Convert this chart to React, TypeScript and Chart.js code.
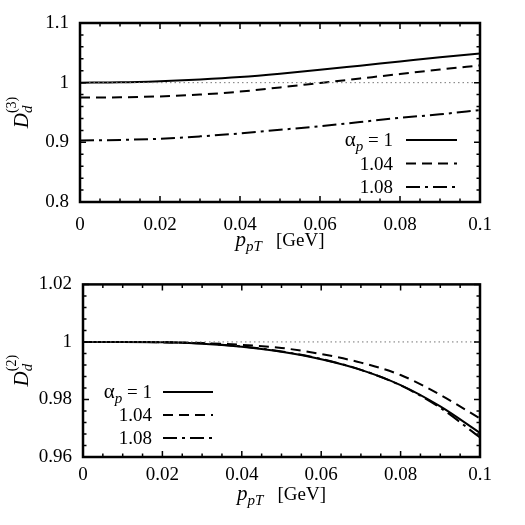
import React, { useEffect, useRef } from 'react';
import { Chart, registerables } from 'chart.js';

Chart.register(...registerables);

// ---------- data ----------
const xValues = [0, 0.01, 0.02, 0.03, 0.04, 0.05, 0.06, 0.07, 0.08, 0.09, 0.1];

const d3Alpha100 = [1.0, 1.0005, 1.0025, 1.0055, 1.0095, 1.015, 1.0215, 1.0285, 1.0355, 1.0425, 1.049];
const d3Alpha104 = [0.975, 0.9755, 0.977, 0.98, 0.985, 0.992, 0.9995, 1.007, 1.0145, 1.022, 1.029];
const d3Alpha108 = [0.903, 0.904, 0.906, 0.91, 0.915, 0.921, 0.927, 0.934, 0.941, 0.947, 0.954];

const d2Alpha100 = [1.0, 1.0, 0.9999, 0.9994, 0.9983, 0.9966, 0.994, 0.9903, 0.985, 0.9776, 0.9684];
const d2Alpha104 = [1.0, 1.0, 0.9999, 0.9996, 0.999, 0.9979, 0.9958, 0.9928, 0.9885, 0.9816, 0.9734];
const d2Alpha108 = [1.0, 1.0, 0.9999, 0.9995, 0.9984, 0.9967, 0.9941, 0.9903, 0.9849, 0.9771, 0.9668];

const legendLabels = ['1', '1.04', '1.08'];
const referenceLevel = 1;

const xMin = 0, xMax = 0.1, xStep = 0.02;
const topYMin = 0.8, topYMax = 1.1, topYStep = 0.1;
const botYMin = 0.96, botYMax = 1.02, botYStep = 0.02;

// ---------- styling ----------
const FONT = "'Liberation Serif', 'Times New Roman', Times, serif";
const dashStyles: number[][] = [[], [10, 6], [14, 5, 3, 5]];

type Part = { t: string; size: number; italic?: boolean; dy?: number };
type Col = Part[];

const fontOf = (p: Part) => `${p.italic ? 'italic ' : ''}${p.size}px ${FONT}`;

function richWidth(ctx: CanvasRenderingContext2D, cols: Col[]) {
  let w = 0;
  for (const col of cols) {
    let m = 0;
    for (const p of col) {
      ctx.font = fontOf(p);
      m = Math.max(m, ctx.measureText(p.t).width);
    }
    w += m;
  }
  return w;
}

function drawRich(ctx: CanvasRenderingContext2D, cols: Col[], x: number, y: number) {
  let cx = x;
  ctx.textBaseline = 'alphabetic';
  ctx.textAlign = 'left';
  for (const col of cols) {
    let m = 0;
    for (const p of col) {
      ctx.font = fontOf(p);
      ctx.fillText(p.t, cx, y + (p.dy || 0));
      m = Math.max(m, ctx.measureText(p.t).width);
    }
    cx += m;
  }
}

const xTitleCols: Col[] = [
  [{ t: 'p', size: 21, italic: true }],
  [{ t: 'pT', size: 15, italic: true, dy: 5 }],
  [{ t: '   [GeV]', size: 19 }],
];

const yTitleCols = (n: string): Col[] => [
  [{ t: 'D', size: 21, italic: true }],
  [
    { t: 'd', size: 15, italic: true, dy: 4 },
    { t: `(${n})`, size: 14, dy: -12 },
  ],
];

const alphaCols: Col[] = [
  [{ t: 'α', size: 21 }],
  [{ t: 'p', size: 15, italic: true, dy: 5 }],
  [{ t: ' = 1', size: 19 }],
];

const decorPlugin = {
  id: 'decor',
  afterDatasetsDraw(chart: any, _args: any, opts: any) {
    const { ctx, chartArea: a, scales } = chart;
    const xs = scales.x, ys = scales.y;
    ctx.save();
    ctx.strokeStyle = '#000';
    ctx.fillStyle = '#000';
    // inner ticks
    ctx.lineWidth = 1.5;
    const nx = Math.round((xs.max - xs.min) / opts.xMinor);
    for (let i = 0; i <= nx; i++) {
      const v = xs.min + i * opts.xMinor;
      const px = xs.getPixelForValue(v);
      const len = i % opts.xRatio === 0 ? 6 : 3.5;
      ctx.beginPath();
      ctx.moveTo(px, a.bottom); ctx.lineTo(px, a.bottom - len);
      ctx.moveTo(px, a.top); ctx.lineTo(px, a.top + len);
      ctx.stroke();
    }
    const ny = Math.round((ys.max - ys.min) / opts.yMinor);
    for (let i = 0; i <= ny; i++) {
      const v = ys.min + i * opts.yMinor;
      const py = ys.getPixelForValue(v);
      const len = i % opts.yRatio === 0 ? 6 : 3.5;
      ctx.beginPath();
      ctx.moveTo(a.left, py); ctx.lineTo(a.left + len, py);
      ctx.moveTo(a.right, py); ctx.lineTo(a.right - len, py);
      ctx.stroke();
    }
    // frame
    ctx.lineWidth = 2.5;
    ctx.strokeRect(a.left, a.top, a.right - a.left, a.bottom - a.top);

    // x title
    const xw = richWidth(ctx, xTitleCols);
    drawRich(ctx, xTitleCols, (a.left + a.right) / 2 - xw / 2, opts.xTitleY);

    // y title (rotated)
    const ycols = yTitleCols(opts.yOrder);
    const yw = richWidth(ctx, ycols);
    ctx.save();
    ctx.translate(opts.yTitleX, (a.top + a.bottom) / 2);
    ctx.rotate(-Math.PI / 2);
    drawRich(ctx, ycols, -yw / 2, 0);
    ctx.restore();

    // legend
    const lg = opts.legend;
    const dsList = chart.data.datasets.filter((d: any) => d.legendIndex !== undefined);
    dsList.forEach((d: any) => {
      const i = d.legendIndex;
      const cy = lg.y0 + i * lg.dy;
      let cols: Col[];
      if (i === 0) cols = alphaCols;
      else cols = [[{ t: legendLabels[i], size: 19 }]];
      const w = richWidth(ctx, cols);
      drawRich(ctx, cols, lg.textRight - w, cy + 6);
      ctx.save();
      ctx.lineWidth = 2;
      ctx.setLineDash(d.borderDash || []);
      ctx.beginPath();
      ctx.moveTo(lg.lineX0, cy);
      ctx.lineTo(lg.lineX1, cy);
      ctx.stroke();
      ctx.restore();
    });
    ctx.restore();
  },
};

function fmt(v: number) {
  return String(Number(Number(v).toFixed(3)));
}

function makeConfig(spec: any) {
  const series = [spec.s1, spec.s2, spec.s3];
  const datasets: any[] = [
    {
      data: [{ x: xMin, y: referenceLevel }, { x: xMax, y: referenceLevel }],
      borderColor: '#777',
      borderWidth: 1,
      borderDash: [1.5, 3],
      pointRadius: 0,
    },
  ];
  series.forEach((s: number[], i: number) => {
    datasets.push({
      data: xValues.map((x, j) => ({ x, y: s[j] })),
      borderColor: '#000',
      borderWidth: 2,
      borderDash: dashStyles[i],
      pointRadius: 0,
      cubicInterpolationMode: 'monotone',
      legendIndex: i,
    });
  });
  return {
    type: 'line',
    data: { datasets },
    options: {
      animation: false,
      responsive: false,
      events: [],
      layout: { padding: { top: spec.padTop, right: 45, left: 0, bottom: 0 } },
      plugins: {
        legend: { display: false },
        tooltip: { enabled: false },
        decor: {
          xMinor: 0.005, xRatio: 4,
          yMinor: spec.yStep / 5, yRatio: 5,
          xTitleY: spec.xTitleY,
          yTitleX: spec.yTitleX,
          yOrder: spec.order,
          legend: spec.legend,
        },
      },
      scales: {
        x: {
          type: 'linear',
          min: xMin, max: xMax,
          grid: { display: false, drawTicks: false },
          border: { display: false },
          ticks: {
            stepSize: xStep,
            padding: spec.xTickPad,
            color: '#000',
            font: { family: FONT, size: 19 },
            maxRotation: 0,
            callback: (v: number) => fmt(v),
          },
          afterFit: (s: any) => { s.height = spec.xAxisH; },
        },
        y: {
          type: 'linear',
          min: spec.yMin, max: spec.yMax,
          grid: { display: false, drawTicks: false },
          border: { display: false },
          ticks: {
            stepSize: spec.yStep,
            padding: 11,
            color: '#000',
            font: { family: FONT, size: 19 },
            callback: (v: number) => fmt(v),
          },
          afterFit: (s: any) => { s.width = spec.yAxisW; },
        },
      },
    },
    plugins: [decorPlugin],
  };
}

function Panel(props: { spec: any; top: number; height: number }) {
  const ref = useRef<HTMLCanvasElement>(null);
  useEffect(() => {
    const chart = new Chart(ref.current as HTMLCanvasElement, makeConfig(props.spec) as any);
    return () => chart.destroy();
  }, []);
  return (
    <canvas
      ref={ref}
      width={525}
      height={props.height}
      style={{ position: 'absolute', left: 0, top: props.top, width: 525, height: props.height }}
    />
  );
}

const topSpec = {
  s1: d3Alpha100, s2: d3Alpha104, s3: d3Alpha108,
  yMin: topYMin, yMax: topYMax, yStep: topYStep,
  padTop: 23, xAxisH: 60, yAxisW: 80, xTickPad: 12,
  xTitleY: 246, yTitleX: 28, order: '3',
  legend: { textRight: 393, lineX0: 406, lineX1: 457, y0: 140, dy: 23.5 },
};

const bottomSpec = {
  s1: d2Alpha100, s2: d2Alpha104, s3: d2Alpha108,
  yMin: botYMin, yMax: botYMax, yStep: botYStep,
  padTop: 14, xAxisH: 68, yAxisW: 83, xTickPad: 7,
  xTitleY: 238, yTitleX: 28, order: '2',
  legend: { textRight: 152, lineX0: 163, lineX1: 213, y0: 130, dy: 23 },
};

export default function App() {
  return (
    <div style={{ position: 'fixed', left: 0, top: 0, width: 525, height: 525, background: '#fff' }}>
      <Panel spec={topSpec} top={0} height={262} />
      <Panel spec={bottomSpec} top={262} height={263} />
    </div>
  );
}
